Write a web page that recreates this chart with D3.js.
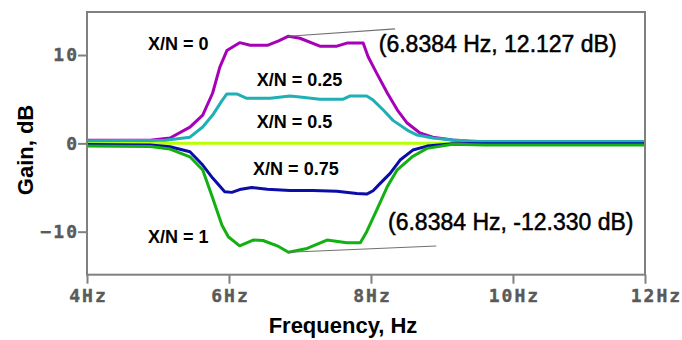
<!DOCTYPE html>
<html><head><meta charset="utf-8">
<script src="https://cdn.jsdelivr.net/npm/d3@7"></script>
<style>
html,body{margin:0;padding:0;background:#fff;}
svg{display:block;}
</style></head>
<body>
<svg id="chart" width="682" height="340"></svg>
<script>
// ---- data ----
const xTicks = [4, 6, 8, 10, 12];
const xTickLabels = ["4Hz", "6Hz", "8Hz", "10Hz", "12Hz"];
const yTicks = [-10, 0, 10];
const yTickLabels = ["\u221210", "0", "10"];
const seriesNames = ["X/N = 0", "X/N = 0.25", "X/N = 0.5", "X/N = 0.75", "X/N = 1"];

const freq0 = [4.0, 4.89, 5.17, 5.45, 5.63, 5.77, 5.87, 5.97, 6.15, 6.30, 6.54, 6.70, 6.8384, 7.0, 7.28, 7.52, 7.66, 7.89, 7.96, 8.08, 8.23, 8.37, 8.51, 8.69, 8.87, 9.15, 9.4, 9.7, 11.86];
const gain0 = [0.35, 0.35, 0.6, 1.84, 3.2, 5.7, 8.6, 10.5, 11.4, 11.1, 11.1, 11.6, 12.127, 11.9, 11.0, 11.0, 11.35, 11.35, 9.8, 7.95, 5.7, 3.8, 2.3, 1.17, 0.7, 0.37, 0.2, 0.05, 0.05];

const freq25 = [4.0, 5.1, 5.45, 5.63, 5.77, 5.89, 5.97, 6.11, 6.25, 6.58, 6.86, 7.0, 7.28, 7.61, 7.70, 7.94, 8.03, 8.17, 8.31, 8.51, 8.65, 8.87, 9.15, 9.54, 11.86];
const gain25 = [0.3, 0.35, 0.7, 1.85, 3.2, 4.7, 5.6, 5.6, 5.1, 5.1, 5.35, 5.25, 5.0, 5.0, 5.35, 5.35, 4.9, 3.8, 2.6, 1.5, 0.94, 0.6, 0.37, 0.22, 0.2];

const freq50 = [4.0, 11.86];
const gain50 = [0.0, 0.0];

const freq75 = [4.0, 4.89, 5.17, 5.45, 5.63, 5.77, 5.94, 6.04, 6.15, 6.32, 6.54, 6.86, 7.18, 7.52, 7.80, 7.94, 8.03, 8.13, 8.27, 8.41, 8.59, 8.79, 9.15, 9.6, 11.86];
const gain75 = [-0.14, -0.2, -0.38, -0.95, -2.46, -3.93, -5.48, -5.55, -5.23, -5.0, -5.2, -5.34, -5.34, -5.42, -5.68, -5.74, -5.37, -4.53, -3.4, -1.89, -0.76, -0.31, -0.05, -0.05, -0.05];

const freq100 = [4.0, 4.89, 5.17, 5.45, 5.63, 5.77, 5.90, 5.99, 6.15, 6.34, 6.48, 6.68, 6.8384, 7.10, 7.38, 7.66, 7.85, 7.94, 8.08, 8.23, 8.37, 8.58, 8.79, 9.15, 9.6, 11.86];
const gain100 = [-0.3, -0.36, -0.65, -1.52, -3.02, -6.2, -9.25, -10.57, -11.6, -10.95, -11.0, -11.6, -12.33, -11.9, -10.95, -11.25, -11.25, -10.0, -7.55, -4.9, -3.0, -1.52, -0.57, -0.11, -0.2, -0.2];

const seriesColors = ["#a600b8", "#1eb0b4", "#b8ff00", "#0c0ca8", "#12b012"];

// annotation values (data units)
const peakFreq = [6.8384, 6.8384];
const peakGain = [12.127, -12.33];
const peakLabels = ["(6.8384 Hz, 12.127 dB)", "(6.8384 Hz, -12.330 dB)"];
const leaderEndFreq = [8.34, 8.92];
const leaderEndGain = [12.95, -11.62];
const peakLabelFreq = [8.11, 8.24];
const peakLabelGain = [11.3, -8.9];
const seriesLabelFreq = [4.86, 6.39, 6.39, 6.34, 4.86];
const seriesLabelGain = [11.3, 7.22, 2.41, -2.85, -10.6];

// ---- chart ----
const svg = d3.select("#chart");
const xMin = 4, xMax = 11.86, yLim = 14.87;
const x = d3.scaleLinear().domain([xMin, xMax]).range([87, 645]);
const y = d3.scaleLinear().domain([-yLim, yLim]).range([274.7, 12]);

const frameColor = "#808080";
const tickFont = "'DejaVu Sans Mono', monospace";

// curves
const series = [
  {f: freq0, g: gain0},
  {f: freq25, g: gain25},
  {f: freq50, g: gain50},
  {f: freq75, g: gain75},
  {f: freq100, g: gain100}
];
const drawOrder = [2, 0, 1, 3, 4];
const line = d3.line().x(d => x(d[0])).y(d => y(d[1])).curve(d3.curveLinear);
const plot = svg.append("g");
drawOrder.forEach(i => {
  const s = series[i];
  plot.append("path")
    .attr("d", line(s.f.map((v, k) => [v, s.g[k]])))
    .attr("fill", "none")
    .attr("stroke", seriesColors[i])
    .attr("stroke-width", 3)
    .attr("stroke-linejoin", "round");
});

// frame
svg.append("rect")
  .attr("x", x(xMin)).attr("y", y(yLim))
  .attr("width", x(xMax) - x(xMin)).attr("height", y(-yLim) - y(yLim))
  .attr("fill", "none").attr("stroke", frameColor).attr("stroke-width", 2);

// x axis
const xAxis = d3.axisBottom(x).tickValues(xTicks).tickSize(9).tickPadding(6)
  .tickFormat((d, i) => xTickLabels[i]);
const gx = svg.append("g").attr("transform", `translate(0,${y(-yLim)})`).call(xAxis);
gx.select(".domain").remove();
gx.selectAll(".tick line").attr("stroke", frameColor).attr("stroke-width", 2)
  .filter(d => d > xMax).attr("transform", `translate(${x(xMax) - x(12)},0)`);
gx.selectAll(".tick text")
  .attr("fill", "#5a5a5a").attr("font-family", tickFont).attr("font-weight", "bold")
  .attr("font-size", 18).attr("letter-spacing", 2).attr("dx", 1)
  .attr("stroke", "#5a5a5a").attr("stroke-width", 0.4);

// y axis
const yAxis = d3.axisLeft(y).tickValues(yTicks).tickSize(9).tickPadding(1)
  .tickFormat((d, i) => yTickLabels[i]);
const gy = svg.append("g").attr("transform", `translate(${x(xMin)},0)`).call(yAxis);
gy.select(".domain").remove();
gy.selectAll(".tick line").attr("stroke", frameColor).attr("stroke-width", 2);
gy.selectAll(".tick text")
  .attr("fill", "#5a5a5a").attr("font-family", tickFont).attr("font-weight", "bold")
  .attr("font-size", 18).attr("letter-spacing", 2).attr("dx", 2)
  .attr("stroke", "#5a5a5a").attr("stroke-width", 0.4);

// axis titles
svg.append("text").attr("x", 343).attr("y", 333)
  .attr("text-anchor", "middle").attr("font-family", "'Liberation Sans', Arial, sans-serif")
  .attr("font-weight", "bold").attr("font-size", 22).attr("fill", "#000")
  .text("Frequency, Hz");
svg.append("text").attr("transform", "translate(33,150) rotate(-90)")
  .attr("text-anchor", "middle").attr("font-family", "'Liberation Sans', Arial, sans-serif")
  .attr("font-weight", "bold").attr("font-size", 22).attr("fill", "#000")
  .text("Gain, dB");

// series labels
seriesNames.forEach((n, i) => {
  svg.append("text")
    .attr("x", x(seriesLabelFreq[i])).attr("y", y(seriesLabelGain[i]))
    .attr("dominant-baseline", "central")
    .attr("font-family", "'Liberation Sans', Arial, sans-serif")
    .attr("font-weight", "bold").attr("font-size", 18).attr("fill", "#000")
    .text(n);
});

// peak annotations
peakLabels.forEach((t, i) => {
  svg.append("line")
    .attr("x1", x(peakFreq[i])).attr("y1", y(peakGain[i]))
    .attr("x2", x(leaderEndFreq[i])).attr("y2", y(leaderEndGain[i]))
    .attr("stroke", "#707070").attr("stroke-width", 1.2);
  svg.append("text")
    .attr("x", x(peakLabelFreq[i])).attr("y", y(peakLabelGain[i]))
    .attr("dominant-baseline", "central")
    .attr("font-family", "'Liberation Sans', Arial, sans-serif")
    .attr("font-size", 23).attr("fill", "#000")
    .attr("stroke", "#000").attr("stroke-width", 0.5)
    .text(t);
});
</script>
</body></html>
